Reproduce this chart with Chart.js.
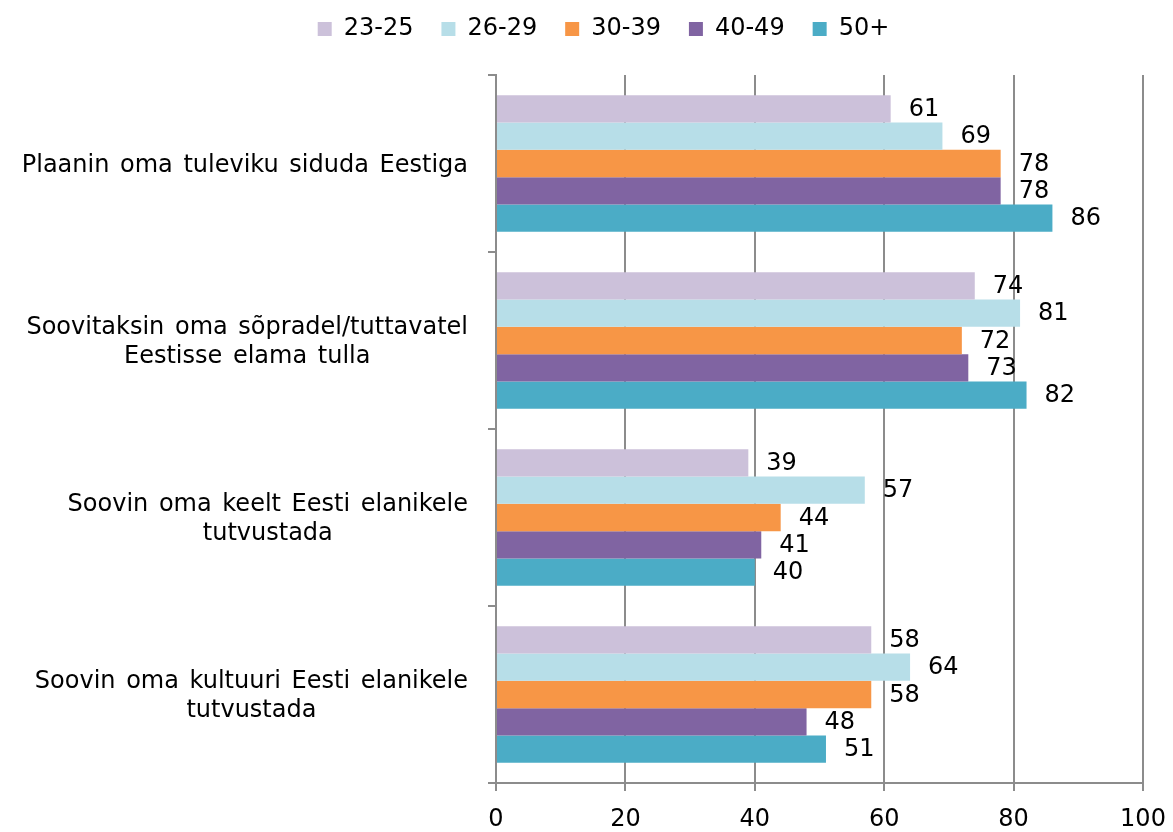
<!DOCTYPE html>
<html>
<head>
<meta charset="utf-8">
<script src="https://cdn.jsdelivr.net/npm/chart.js@4"></script>
<style>
  html, body { margin: 0; padding: 0; background: #fff; }
  #wrap { width: 1173px; height: 832px; }
</style>
</head>
<body>
<div id="wrap"><canvas id="myChart" width="1173" height="832"></canvas></div>
<script>
// categories (multi-line labels)
const categories = [
    ['Plaanin oma tuleviku siduda Eestiga'],
    ['Soovitaksin oma sõpradel/tuttavatel', 'Eestisse elama tulla'],
    ['Soovin oma keelt Eesti elanikele', 'tutvustada'],
    ['Soovin oma kultuuri Eesti elanikele', 'tutvustada']
];

const seriesNames = ['23-25', '26-29', '30-39', '40-49', '50+'];
const age23_25 = [61, 74, 39, 58];
const age26_29 = [69, 81, 57, 64];
const age30_39 = [78, 72, 44, 58];
const age40_49 = [78, 73, 41, 48];
const age50plus = [86, 82, 40, 51];
const colors = ['#CCC1DA', '#B7DEE8', '#F79646', '#8064A2', '#4BACC6'];
const xTicks = [0, 20, 40, 60, 80, 100];

const FONT = '"DejaVu Sans", Verdana, sans-serif';
const gridGray = '#8c8c8c';

// values next to the bar ends
const valueLabels = {
    id: 'valueLabels',
    afterDatasetsDraw(chart) {
        const ctx = chart.ctx;
        ctx.save();
        ctx.font = '24px ' + FONT;
        ctx.fillStyle = '#000';
        ctx.textAlign = 'left';
        ctx.textBaseline = 'middle';
        chart.data.datasets.forEach((ds, i) => {
            chart.getDatasetMeta(i).data.forEach((bar, j) => {
                ctx.fillText(ds.data[j], bar.x + 18, bar.y + 1);
            });
        });
        ctx.restore();
    }
};

// category labels: block right-aligned, lines centred inside the block (like Excel)
const catLabels = {
    id: 'catLabels',
    afterDraw(chart) {
        const ctx = chart.ctx;
        const y = chart.scales.y;
        ctx.save();
        ctx.font = '24px ' + FONT;
        ctx.wordSpacing = '3px';
        ctx.fillStyle = '#000';
        ctx.textAlign = 'center';
        ctx.textBaseline = 'middle';
        const right = chart.chartArea.left - 28;
        const lh = 29;
        categories.forEach((lines, i) => {
            const w = Math.max(...lines.map(l => ctx.measureText(l).width));
            const cx = right - w / 2;
            const cy = y.getPixelForTick(i) + 2;
            lines.forEach((l, k) => {
                ctx.fillText(l, cx, cy + (k - (lines.length - 1) / 2) * lh);
            });
        });
        ctx.restore();
    }
};

// legend: fixed height so the plot starts where the reference does, and nudged right
const legendTweak = {
    id: 'legendTweak',
    beforeInit(chart) {
        const lg = chart.legend;
        const fit = lg.fit;
        lg.fit = function () {
            fit.call(lg);
            this.height = 86;
        };
        const draw = lg.draw;
        lg.draw = function () {
            chart.ctx.save();
            chart.ctx.translate(32, 0);
            draw.call(lg);
            chart.ctx.restore();
        };
    }
};

const ctx = document.getElementById('myChart').getContext('2d');
new Chart(ctx, {
    type: 'bar',
    data: {
        labels: categories,
        datasets: [
            { label: seriesNames[0], data: age23_25, backgroundColor: colors[0] },
            { label: seriesNames[1], data: age26_29, backgroundColor: colors[1] },
            { label: seriesNames[2], data: age30_39, backgroundColor: colors[2] },
            { label: seriesNames[3], data: age40_49, backgroundColor: colors[3] },
            { label: seriesNames[4], data: age50plus, backgroundColor: colors[4] }
        ]
    },
    options: {
        indexAxis: 'y',
        responsive: false,
        animation: false,
        datasets: {
            bar: { categoryPercentage: 0.77, barPercentage: 1.0, borderWidth: 0 }
        },
        layout: { padding: { top: -11, right: 30, left: 0, bottom: 0 } },
        plugins: {
            tooltip: { enabled: false },
            legend: {
                position: 'top',
                labels: {
                    font: { family: FONT, size: 24 },
                    color: '#000',
                    boxWidth: 14,
                    boxHeight: 14,
                    padding: 28
                }
            }
        },
        scales: {
            x: {
                min: 0,
                max: 100,
                afterBuildTicks: s => { s.ticks = xTicks.map(v => ({ value: v })); },
                afterFit: s => { s.height = 49; s.paddingRight = 0; s.paddingLeft = 0; },
                grid: { color: gridGray, lineWidth: 2, tickLength: 8 },
                border: { color: gridGray, width: 2 },
                ticks: { font: { family: FONT, size: 24 }, color: '#000', padding: 14, maxRotation: 0 }
            },
            y: {
                afterFit: s => { s.width = 496; },
                grid: { display: true, drawOnChartArea: false, drawTicks: true, tickLength: 8, color: gridGray, lineWidth: 2, offset: true },
                border: { color: gridGray, width: 2 },
                ticks: { display: false }
            }
        }
    },
    plugins: [valueLabels, catLabels, legendTweak]
});
</script>
</body>
</html>
